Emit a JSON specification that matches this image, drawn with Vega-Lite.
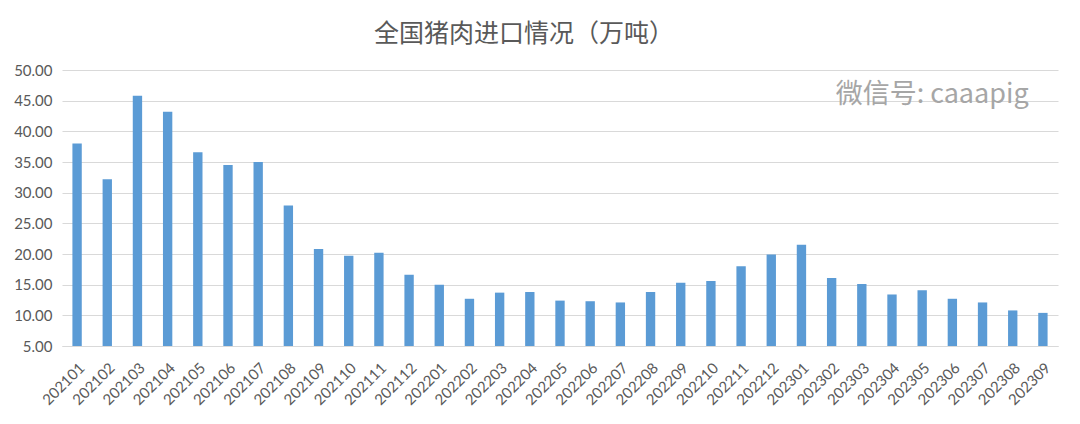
{
  "$schema": "https://vega.github.io/schema/vega-lite/v6.json",
  "autosize": "none",
  "width": 996,
  "height": 276,
  "padding": {"left": 62, "top": 70, "right": 22, "bottom": 78},
  "background": "white",
  "title": {
    "text": "全国猪肉进口情况（万吨）",
    "font": "Noto Sans CJK SC",
    "fontSize": 25,
    "fontWeight": "normal",
    "color": "#595959",
    "anchor": "middle",
    "dx": -36,
    "offset": 16
  },
  "config": {
    "view": {"stroke": null},
    "axis": {
      "labelFont": "Lato",
      "labelColor": "#595959",
      "gridColor": "#d9d9d9",
      "domainColor": "#d9d9d9",
      "ticks": false,
      "labelOverlap": false,
      "labelFlush": false
    }
  },
  "resolve": {"axis": {"x": "independent", "y": "independent"}},
  "layer": [
    {
      "data": {
        "values": [
          {"month": "202101", "value": 38.0},
          {"month": "202102", "value": 32.2},
          {"month": "202103", "value": 45.8},
          {"month": "202104", "value": 43.2},
          {"month": "202105", "value": 36.6},
          {"month": "202106", "value": 34.5},
          {"month": "202107", "value": 35.0},
          {"month": "202108", "value": 27.9},
          {"month": "202109", "value": 20.8},
          {"month": "202110", "value": 19.7},
          {"month": "202111", "value": 20.2},
          {"month": "202112", "value": 16.6},
          {"month": "202201", "value": 15.0},
          {"month": "202202", "value": 12.7},
          {"month": "202203", "value": 13.7},
          {"month": "202204", "value": 13.8},
          {"month": "202205", "value": 12.4},
          {"month": "202206", "value": 12.3},
          {"month": "202207", "value": 12.1},
          {"month": "202208", "value": 13.8},
          {"month": "202209", "value": 15.3},
          {"month": "202210", "value": 15.6},
          {"month": "202211", "value": 18.0},
          {"month": "202212", "value": 19.9},
          {"month": "202301", "value": 21.5},
          {"month": "202302", "value": 16.1},
          {"month": "202303", "value": 15.1},
          {"month": "202304", "value": 13.4},
          {"month": "202305", "value": 14.1},
          {"month": "202306", "value": 12.7},
          {"month": "202307", "value": 12.1},
          {"month": "202308", "value": 10.8},
          {"month": "202309", "value": 10.4}
        ]
      },
      "mark": {"type": "bar", "color": "#5b9bd5", "clip": true},
      "encoding": {
        "x": {
          "field": "month",
          "type": "nominal",
          "sort": null,
          "title": null,
          "scale": {"paddingInner": 0.69, "paddingOuter": 0.345},
          "axis": {
            "labelAngle": -45,
            "labelFontSize": 15,
            "labelPadding": 14,
            "domain": true,
            "grid": false
          }
        },
        "y": {
          "field": "value",
          "type": "quantitative",
          "title": null,
          "scale": {"domain": [5, 50], "zero": false, "nice": false},
          "axis": {
            "values": [5, 10, 15, 20, 25, 30, 35, 40, 45, 50],
            "format": ".2f",
            "labelFontSize": 15,
            "labelPadding": 10,
            "labelOverlap": false,
            "domain": false,
            "grid": true
          }
        }
      }
    },
    {
      "data": {"values": [{"label": "微信号: caaapig", "pos": "202302", "level": 45.9}]},
      "mark": {
        "type": "text",
        "font": "Noto Sans CJK SC",
        "fontSize": 27,
        "color": "#a6a6a6",
        "align": "left",
        "baseline": "middle",
        "dx": 4
      },
      "encoding": {
        "x": {"field": "pos", "type": "nominal", "sort": null, "axis": null},
        "y": {"field": "level", "type": "quantitative", "axis": null},
        "text": {"field": "label"}
      }
    }
  ]
}
